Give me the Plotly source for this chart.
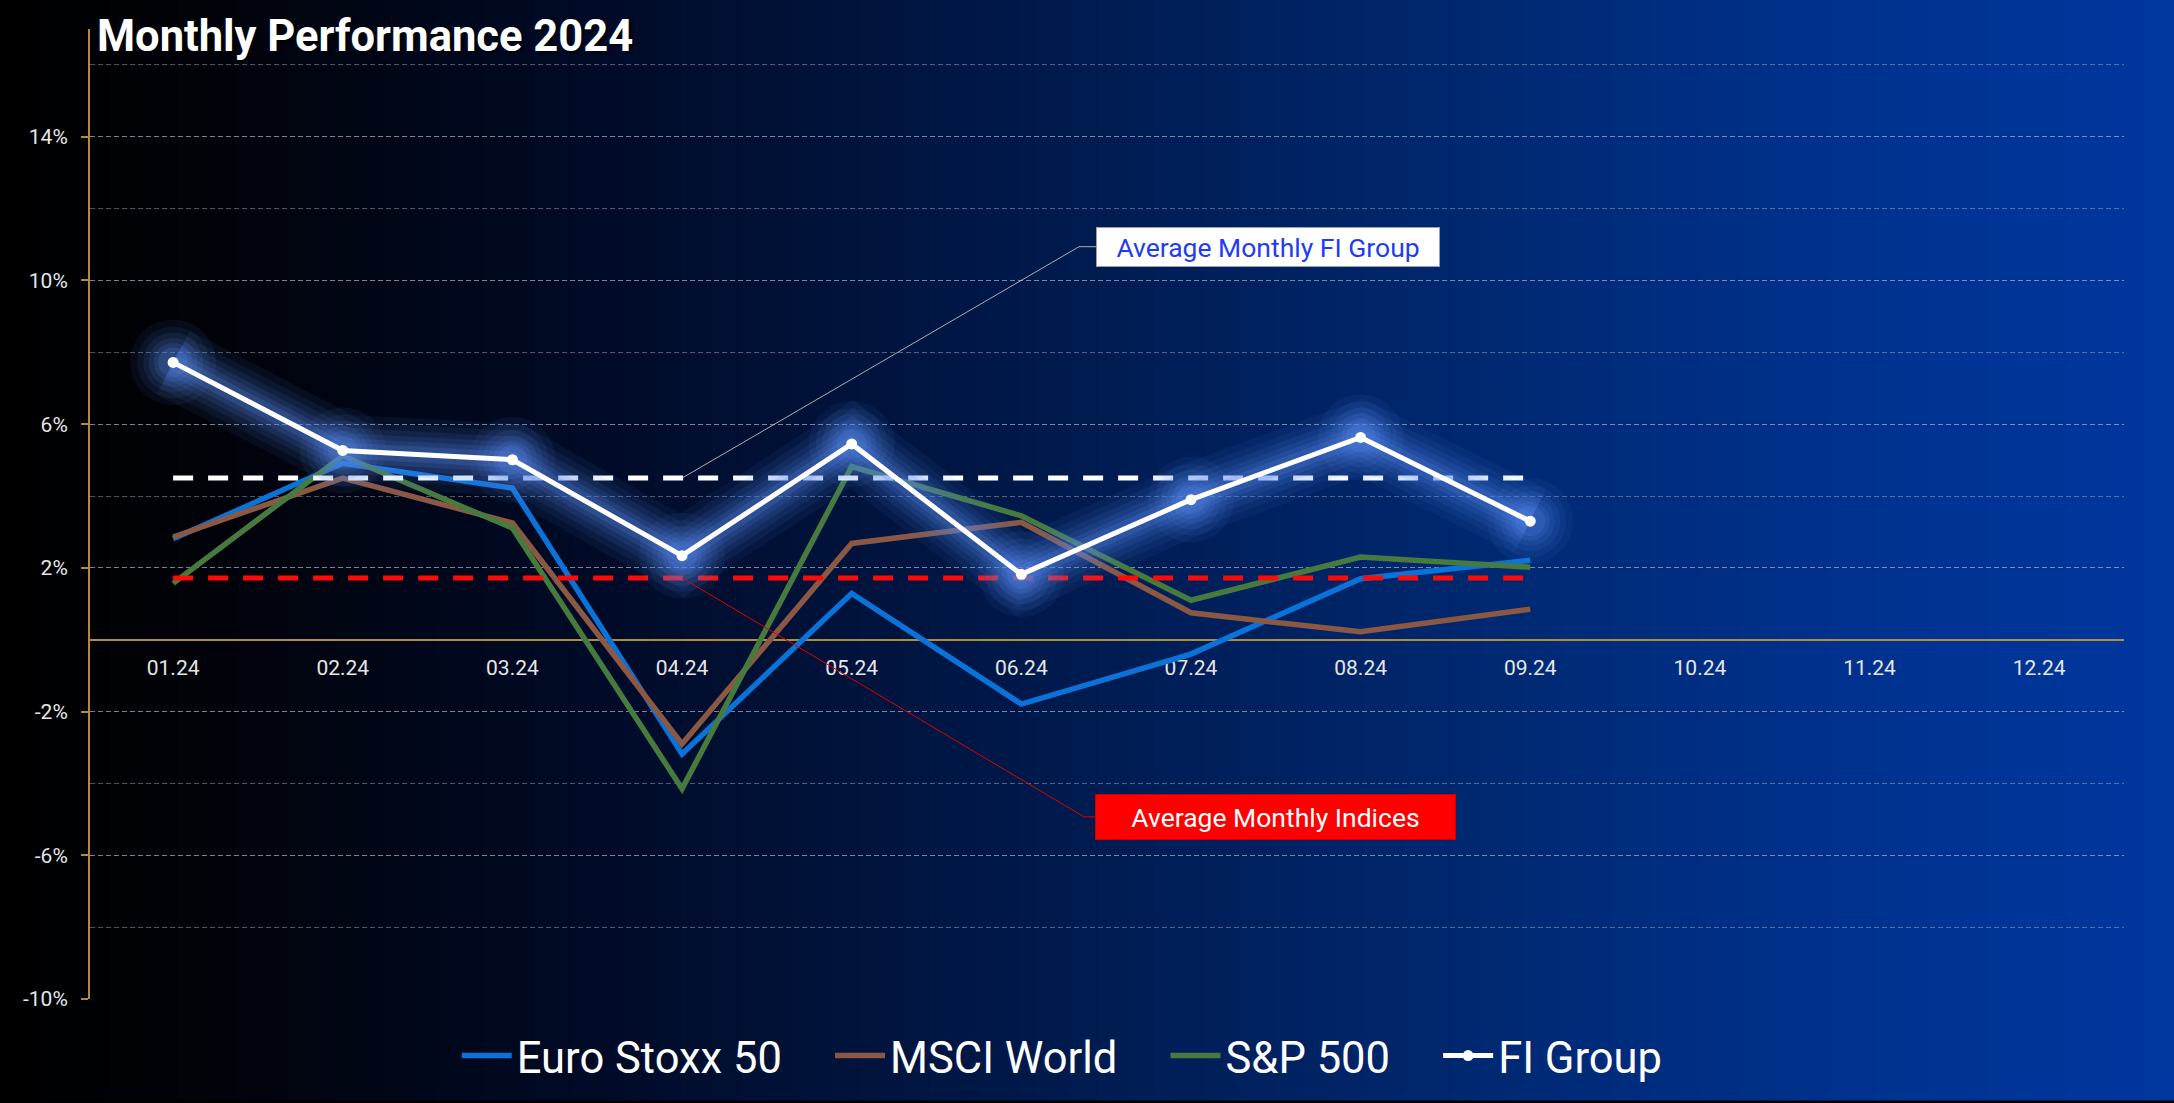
import plotly.graph_objects as go

# ---------------- data ----------------
months = ["01.24", "02.24", "03.24", "04.24", "05.24", "06.24",
          "07.24", "08.24", "09.24", "10.24", "11.24", "12.24"]
months_done = months[:9]

series_names = ["Euro Stoxx 50", "MSCI World", "S&P 500", "FI Group"]
euro_stoxx = [2.81, 4.91, 4.22, -3.18, 1.29, -1.79, -0.40, 1.70, 2.21]
msci_world = [2.86, 4.50, 3.25, -2.90, 2.68, 3.27, 0.75, 0.22, 0.85]
sp500 = [1.57, 5.12, 3.11, -4.15, 4.82, 3.45, 1.10, 2.30, 2.02]
fi_group = [7.72, 5.27, 5.01, 2.34, 5.45, 1.82, 3.90, 5.63, 3.30]

avg_fi = 4.50
avg_indices = 1.72

y_tick_vals = [-10, -6, -2, 2, 6, 10, 14]
y_tick_text = ["-10%", "-6%", "-2%", "2%", "6%", "10%", "14%"]

title_text = "Monthly Performance 2024"
label_fi = "Average Monthly FI Group"
label_idx = "Average Monthly Indices"

# ---------------- layout geometry ----------------
W, H = 2174, 1103
ML, MR, MT, MB = 90, 50, 29, 100
PW = W - ML - MR
PH = H - MT - MB
Y_MIN, Y_MAX = -10, 17


def px_x(px):
    return (px - ML) / PW


def px_y(py):
    return (H - MB - py) / PH


FONT = "Roboto"
PAD = "\u00a0" * 4


def legend_name(i, last=False):
    return series_names[i] + ("" if last else PAD)


fig = go.Figure()

# ---------------- index lines ----------------
fig.add_trace(go.Scatter(x=months_done, y=euro_stoxx, name=legend_name(0),
                         mode="lines", line=dict(color="#0b72d8", width=5.5),
                         hoverinfo="skip"))
fig.add_trace(go.Scatter(x=months_done, y=msci_world, name=legend_name(1),
                         mode="lines", line=dict(color="#8a5843", width=5.5),
                         hoverinfo="skip"))
fig.add_trace(go.Scatter(x=months_done, y=sp500, name=legend_name(2),
                         mode="lines", line=dict(color="#467a3e", width=5.5),
                         hoverinfo="skip"))

# ---------------- average dashed lines ----------------
fig.add_trace(go.Scatter(x=months_done, y=[avg_indices] * len(months_done),
                         mode="lines", showlegend=False, hoverinfo="skip",
                         line=dict(color="#ff0a0a", width=5, dash="20px,15px")))
fig.add_trace(go.Scatter(x=months_done, y=[avg_fi] * len(months_done),
                         mode="lines", showlegend=False, hoverinfo="skip",
                         line=dict(color="#ffffff", width=5, dash="20px,15px")))

# ---------------- glow for FI Group ----------------
for w, a in [(72, 0.07), (58, 0.08), (46, 0.1), (35, 0.12), (25, 0.15), (16, 0.2)]:
    fig.add_trace(go.Scatter(x=months_done, y=fi_group, mode="lines+markers",
                             showlegend=False, hoverinfo="skip",
                             line=dict(color=f"rgba(85,135,235,{a})", width=w),
                             marker=dict(size=w + 14, color=f"rgba(85,135,235,{a})")))

fig.add_trace(go.Scatter(x=months_done, y=fi_group, name=legend_name(3, True),
                         mode="lines+markers", hoverinfo="skip",
                         line=dict(color="#ffffff", width=5),
                         marker=dict(size=11, color="#ffffff")))

# ---------------- background gradient ----------------
stops = [(0.0, (0, 0, 0)), (0.1, (1, 3, 10)), (0.28, (1, 11, 40)),
         (0.46, (0, 24, 72)), (0.55, (0, 31, 90)), (0.69, (0, 41, 114)),
         (0.85, (0, 49, 142)), (1.0, (0, 55, 158))]


def grad(t):
    for (t0, c0), (t1, c1) in zip(stops[:-1], stops[1:]):
        if t0 <= t <= t1:
            f = (t - t0) / (t1 - t0)
            return tuple(round(c0[i] + (c1[i] - c0[i]) * f) for i in range(3))
    return stops[-1][1]


shapes = []
N = 220
for i in range(N):
    x0 = W * i / N
    x1 = W * (i + 1) / N + 1
    c = grad((i + 0.5) / N)
    shapes.append(dict(type="rect", xref="paper", yref="paper", layer="below",
                       x0=px_x(x0), x1=px_x(x1), y0=px_y(H + 2), y1=px_y(-2),
                       fillcolor=f"rgb{c}", line=dict(width=0)))

# connector lines for annotations
fi_elbow = (5.34, 10.94)
fi_box_x = 5.44
idx_elbow = (5.37, -4.93)
idx_box_x = 5.435
shapes += [
    dict(type="line", xref="x", yref="y", x0=3, y0=avg_fi,
         x1=fi_elbow[0], y1=fi_elbow[1], line=dict(color="rgba(200,200,200,0.85)", width=1)),
    dict(type="line", xref="x", yref="y", x0=fi_elbow[0], y0=fi_elbow[1],
         x1=fi_box_x, y1=fi_elbow[1], line=dict(color="rgba(200,200,200,0.85)", width=1)),
    dict(type="line", xref="x", yref="y", x0=3, y0=avg_indices,
         x1=idx_elbow[0], y1=idx_elbow[1], line=dict(color="#e00000", width=1)),
    dict(type="line", xref="x", yref="y", x0=idx_elbow[0], y0=idx_elbow[1],
         x1=idx_box_x, y1=idx_elbow[1], line=dict(color="#e00000", width=1)),
]

annotations = [
    dict(text=f"<b>{title_text}</b>", xref="paper", yref="paper",
         x=px_x(95), y=px_y(37), xanchor="left", yanchor="middle",
         showarrow=False,
         font=dict(family=FONT, size=43.5, color="#ffffff",
                   shadow="2px 2px 3px rgba(0,0,0,0.7)")),
    dict(text=label_fi, xref="x", yref="y", x=fi_box_x, y=fi_elbow[1],
         xanchor="left", yanchor="middle", showarrow=False,
         width=336, height=32, borderpad=3, borderwidth=1,
         bordercolor="#9aa0b0", bgcolor="#ffffff",
         font=dict(family=FONT, size=26.5, color="#1f3cf5")),
    dict(text=label_idx, xref="x", yref="y", x=idx_box_x, y=idx_elbow[1],
         xanchor="left", yanchor="middle", showarrow=False,
         width=353, height=38, borderpad=3, borderwidth=1,
         bordercolor="#d00000", bgcolor="#ff0000",
         font=dict(family=FONT, size=26.5, color="#ffffff")),
]

grid_col = "rgba(175,185,205,0.45)"
gold = "#b08d3e"

fig.update_layout(
    width=W, height=H,
    margin=dict(l=ML, r=MR, t=MT, b=MB),
    paper_bgcolor="#000000",
    plot_bgcolor="rgba(0,0,0,0)",
    font=dict(family=FONT, color="#e6e6e6"),
    shapes=shapes,
    annotations=annotations,
    showlegend=True,
    legend=dict(orientation="h", x=0.478, xanchor="center",
                y=px_y(1060), yanchor="middle",
                font=dict(family=FONT, size=43.5, color="#ffffff"),
                bgcolor="rgba(0,0,0,0)", itemwidth=50,
                tracegroupgap=0),
    xaxis=dict(type="category", categoryorder="array", categoryarray=months,
               tickvals=months, ticktext=months,
               range=[-0.49, 11.5], anchor="free",
               position=(0 - Y_MIN) / (Y_MAX - Y_MIN),
               showgrid=False, zeroline=False,
               showline=True, linecolor=gold, linewidth=2,
               ticks="", ticklabelstandoff=9, layer="below traces",
               tickfont=dict(family=FONT, size=21, color="#e6e6e6")),
    yaxis=dict(range=[Y_MIN, Y_MAX], tickmode="array",
               tickvals=y_tick_vals, ticktext=y_tick_text,
               showgrid=True, gridcolor=grid_col, gridwidth=1, griddash="5px,3px",
               minor=dict(tickmode="linear", tick0=0, dtick=2, showgrid=True,
                          gridcolor=grid_col, gridwidth=1, griddash="5px,3px",
                          ticks=""),
               zeroline=False, showline=True, linecolor=gold, linewidth=2,
               ticks="outside", ticklen=7, tickwidth=2, tickcolor=gold,
               ticklabelstandoff=9,
               tickfont=dict(family=FONT, size=21, color="#e6e6e6")),
)

fig.write_html("out.html")
